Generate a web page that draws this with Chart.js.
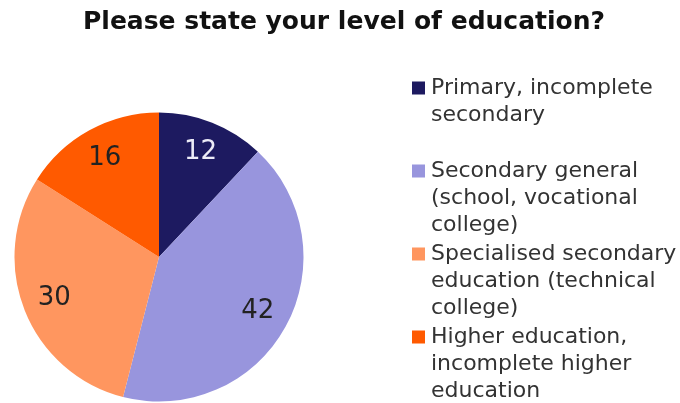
<!DOCTYPE html>
<html>
<head>
<meta charset="utf-8">
<script src="https://cdn.jsdelivr.net/npm/chart.js@4.4.1/dist/chart.umd.min.js"></script>
<style>
  html, body { margin: 0; padding: 0; background: #fff; }
  #wrap { width: 680px; height: 403px; }
</style>
</head>
<body>
<div id="wrap"><canvas id="eduChart"></canvas></div>
<script>
// Datos del gráfico
const titleText = "Please state your level of education?";
const categories = [
  ["Primary, incomplete", "secondary"],
  ["Secondary general", "(school, vocational", "college)"],
  ["Specialised secondary", "education (technical", "college)"],
  ["Higher education,", "incomplete higher", "education"]
];
const values = [12, 42, 30, 16];
const colors = ["#1d1a60", "#9895dd", "#ff965f", "#ff5a00"];
const valueColors = ["#ecebf7", "#222222", "#222222", "#222222"];

// Etiquetas dentro de cada sector, título y leyenda a la derecha
const piePlugin = {
  id: "piePlugin",
  afterDatasetsDraw(chart) {
    const ctx = chart.ctx;
    const arcs = chart.getDatasetMeta(0).data;
    ctx.save();
    ctx.font = "26px 'DejaVu Sans'";
    ctx.textAlign = "center";
    ctx.textBaseline = "middle";
    arcs.forEach((arc, i) => {
      const p = arc.getProps(["x", "y", "startAngle", "endAngle", "outerRadius"], true);
      const mid = (p.startAngle + p.endAngle) / 2;
      const r = p.outerRadius * 0.78;
      ctx.fillStyle = valueColors[i];
      ctx.fillText(String(values[i]), p.x + Math.cos(mid) * r, p.y + Math.sin(mid) * r);
    });
    ctx.restore();
  },
  afterDraw(chart) {
    const ctx = chart.ctx;
    ctx.save();
    // título
    ctx.font = "bold 25px 'DejaVu Sans'";
    ctx.fillStyle = "#111111";
    ctx.textAlign = "center";
    ctx.textBaseline = "middle";
    ctx.fillText(titleText, 344, 22);

    // leyenda
    ctx.font = "22px 'DejaVu Sans'";
    ctx.textAlign = "left";
    ctx.fillStyle = "#333333";
    categories.forEach((lines, i) => {
      const y0 = 88 + i * 83;
      ctx.fillStyle = colors[i];
      ctx.fillRect(412, y0 - 6.5, 13, 13);
      ctx.fillStyle = "#333333";
      lines.forEach((line, j) => {
        ctx.fillText(line, 431, y0 + j * 27);
      });
    });
    ctx.restore();
  }
};

const ctx = document.getElementById("eduChart").getContext("2d");
const eduChart = new Chart(ctx, {
  type: "pie",
  data: {
    labels: categories.map(l => l.join(" ")),
    datasets: [
      {
        data: values,
        backgroundColor: colors,
        borderWidth: 0,
      },
    ],
  },
  options: {
    responsive: true,
    maintainAspectRatio: false,
    animation: false,
    layout: {
      padding: { left: 14.5, right: 376.5, top: 112.5, bottom: 1.5 },
    },
    plugins: {
      legend: { display: false },
      title: { display: false },
      tooltip: { enabled: false },
    },
  },
  plugins: [piePlugin],
});
</script>
</body>
</html>
